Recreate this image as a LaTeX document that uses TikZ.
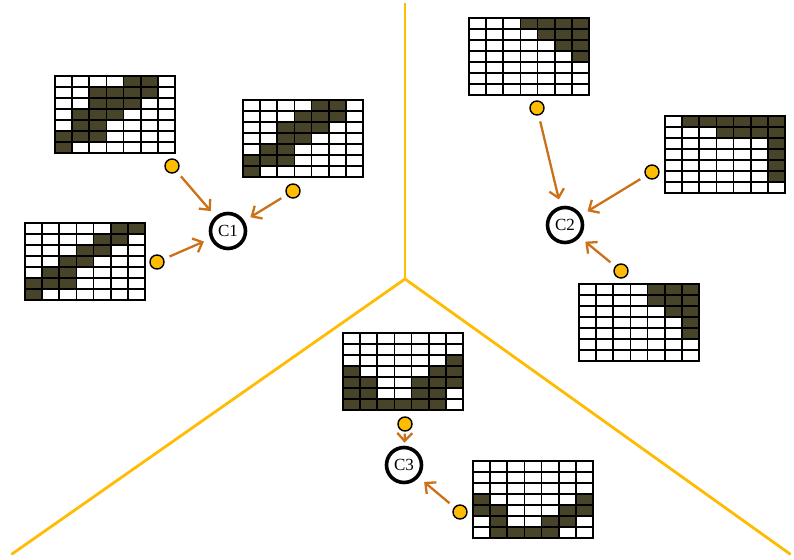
\documentclass[tikz,border=0pt]{standalone}
\usepackage{fontspec}
\setmainfont{Liberation Serif}
\usetikzlibrary{arrows.meta}
\definecolor{cellfill}{RGB}{72,68,42}
\definecolor{gold}{RGB}{255,188,0}
\definecolor{arrorange}{RGB}{204,112,26}
\tikzset{
  cellbox/.style={draw=black,line width=1.6pt},
  dot/.style={circle,draw=black,line width=1.4pt,fill=gold,minimum size=14pt,inner sep=0pt},
  cls/.style={circle,draw=black,line width=3.6pt,minimum size=35pt,inner sep=0pt,font=\fontsize{17}{17}\selectfont},
  link/.style={draw=arrorange,line width=2.3pt,-{Straight Barb[length=8pt,width=15pt,line width=2.3pt]},shorten >=7pt,shorten <=6pt},
  divider/.style={draw=gold,line width=2.8pt}
}
\newcommand{\pixgrid}[4]{%
  \node[minimum width=120pt,minimum height=77pt,inner sep=0pt,anchor=north west] (#1) at (#2,#3) {};
  \foreach \rowlist [count=\r] in {#4} {
    \foreach \v [count=\c] in \rowlist {
      \ifnum\v=1
        \filldraw[cellbox,fill=cellfill] ({#2+(\c-1)*120/7},{#3-(\r-1)*11}) rectangle ++(120/7,-11);
      \else
        \filldraw[cellbox,fill=white] ({#2+(\c-1)*120/7},{#3-(\r-1)*11}) rectangle ++(120/7,-11);
      \fi
    }
  }
}
\begin{document}
\begin{tikzpicture}[x=1pt,y=1pt]
\useasboundingbox (0,0) rectangle (794,-559);
% dividers
\coordinate (j) at (405,-279);
\coordinate (top) at (405,-3);
\coordinate (bl) at (12,-554);
\coordinate (br) at (790,-554);
\draw[divider] (top) -- (j);
\draw[divider,line cap=round] (bl) -- (j) -- (br);
% grids
\pixgrid{g1}{55}{-76}{{0,0,0,0,1,1,0},{0,0,1,1,1,1,0},{0,0,1,1,1,0,0},{0,1,1,1,0,0,0},{0,1,1,0,0,0,0},{1,1,1,0,0,0,0},{1,0,0,0,0,0,0}}
\pixgrid{g2}{243}{-100}{{0,0,0,0,1,1,0},{0,0,0,1,1,1,0},{0,0,1,1,1,0,0},{0,0,1,1,0,0,0},{0,1,1,0,0,0,0},{1,1,1,0,0,0,0},{1,0,0,0,0,0,0}}
\pixgrid{g3}{25}{-223}{{0,0,0,0,0,1,1},{0,0,0,0,1,1,0},{0,0,0,1,1,0,0},{0,0,1,1,0,0,0},{0,1,1,0,0,0,0},{1,1,1,0,0,0,0},{1,0,0,0,0,0,0}}
\pixgrid{g4}{469}{-18}{{0,0,0,1,1,1,1},{0,0,0,0,1,1,1},{0,0,0,0,0,1,1},{0,0,0,0,0,0,1},{0,0,0,0,0,0,0},{0,0,0,0,0,0,0},{0,0,0,0,0,0,0}}
\pixgrid{g5}{665}{-116}{{0,1,1,1,1,1,1},{0,0,0,1,1,1,1},{0,0,0,0,0,0,1},{0,0,0,0,0,0,1},{0,0,0,0,0,0,1},{0,0,0,0,0,0,1},{0,0,0,0,0,0,0}}
\pixgrid{g6}{579}{-284}{{0,0,0,0,1,1,1},{0,0,0,0,1,1,1},{0,0,0,0,0,1,1},{0,0,0,0,0,0,1},{0,0,0,0,0,0,1},{0,0,0,0,0,0,0},{0,0,0,0,0,0,0}}
\pixgrid{g7}{343}{-333}{{0,0,0,0,0,0,0},{0,0,0,0,0,0,0},{0,0,0,0,0,0,1},{1,0,0,0,0,1,1},{1,1,0,0,1,1,1},{1,1,0,0,1,1,0},{1,1,1,1,1,1,0}}
\pixgrid{g8}{473}{-461}{{0,0,0,0,0,0,0},{0,0,0,0,0,0,0},{0,0,0,0,0,0,0},{1,0,0,0,0,0,1},{1,1,0,0,0,1,1},{0,1,0,0,1,1,0},{0,1,1,1,1,0,0}}
% cluster circles
\node[cls] (c1) at (228,-231) {C1};
\node[cls] (c2) at (565,-225) {C2};
\node[cls] (c3) at (404,-465) {C3};
% dots
\node[dot] (d1) at (172,-166) {};
\node[dot] (d2) at (293,-191) {};
\node[dot] (d3) at (157,-262) {};
\node[dot] (d4) at (537,-108) {};
\node[dot] (d5) at (652,-172) {};
\node[dot] (d6) at (621,-271) {};
\node[dot] (d7) at (405,-424) {};
\node[dot] (d8) at (460,-512) {};
% arrows
\draw[link] (d1) -- (c1);
\draw[link] (d2) -- (c1);
\draw[link] (d3) -- (c1);
\draw[link] (d4) -- (c2);
\draw[link] (d5) -- (c2);
\draw[link] (d6) -- (c2);
\draw[link,shorten >=3pt,shorten <=2pt] (d7) -- (c3);
\draw[link] (d8) -- (c3);
\end{tikzpicture}
\end{document}
